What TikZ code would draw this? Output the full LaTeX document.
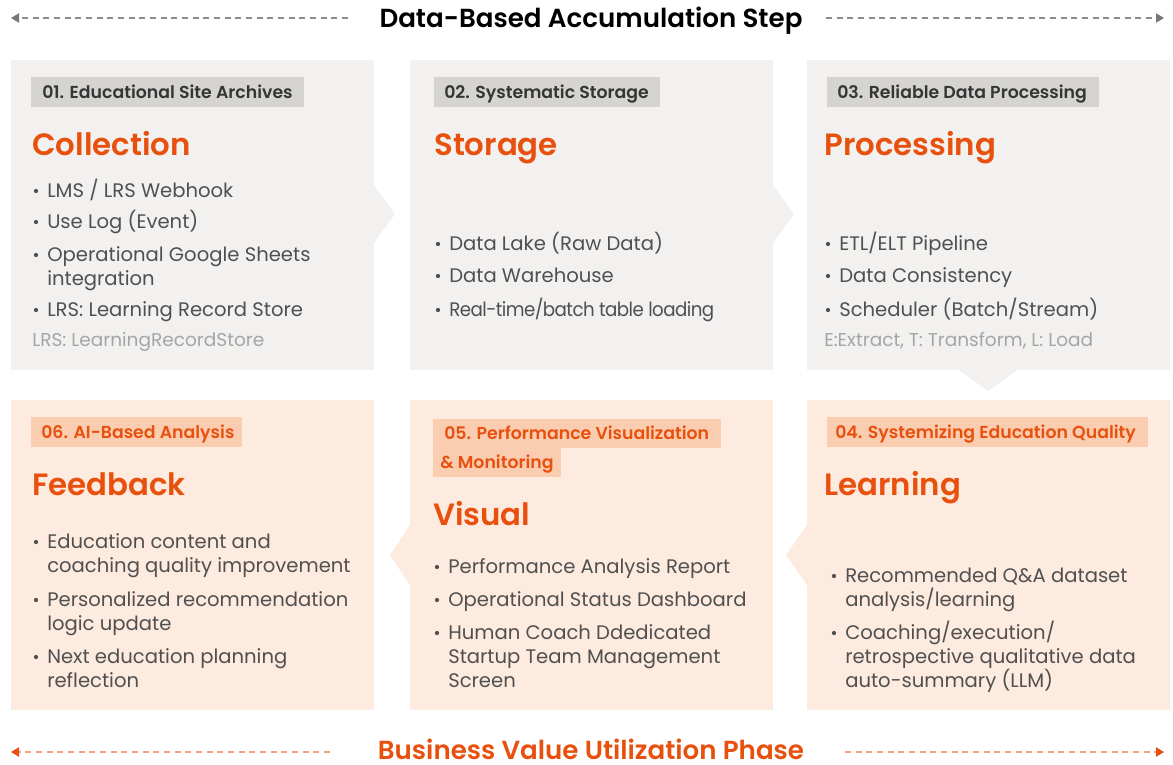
\documentclass[tikz,border=0pt]{standalone}
\usepackage{fontspec}
\usepackage{graphicx}
\setmainfont{Poppins}
\IfFontExistsTF{Poppins SemiBold}{\newfontfamily\psb{Poppins SemiBold}}{\newcommand\psb{\bfseries}}
\usetikzlibrary{arrows.meta}
\definecolor{orng}{HTML}{E8500E}
\definecolor{grayp}{HTML}{F2F1F0}
\definecolor{grayt}{HTML}{D6D4D1}
\definecolor{peach}{HTML}{FDEBDF}
\definecolor{peacht}{HTML}{FBCDB0}
\definecolor{tagtxt}{HTML}{353535}
\definecolor{bodyc}{HTML}{505050}
\definecolor{notec}{HTML}{A5A5A5}
\definecolor{dashg}{HTML}{8C8C8C}
\definecolor{tipg}{HTML}{777777}
\definecolor{dasho}{HTML}{F3A47F}
\tikzset{
 body/.style={anchor=base west, inner sep=0, text=bodyc, font=\fontsize{14.7}{18}\selectfont},
 note/.style={anchor=base west, inner sep=0, text=notec, font=\fontsize{13.9}{16}\selectfont},
 ttl/.style={anchor=base west, inner sep=0, text=orng, font=\fontsize{23.1}{28}\selectfont\psb},
 tagg/.style={anchor=base west, inner sep=0, text=tagtxt, font=\fontsize{13}{15}\selectfont\psb},
 tago/.style={tagg, text=orng},
 dot/.style={circle, fill=bodyc, inner sep=0, minimum size=3.2pt},
 hdrg/.style={anchor=base, inner sep=0, font=\fontsize{19.6}{24}\selectfont\psb, text=black},
 hdro/.style={hdrg, text=orng},
 dashgl/.style={draw=dashg, line width=0.9pt, dash pattern=on 4.5pt off 3.5pt, -{Triangle[length=6pt,width=7pt,color=tipg]}},
 dashol/.style={draw=dasho, line width=1.1pt, dash pattern=on 4.5pt off 3.5pt, -{Triangle[length=6pt,width=7pt,color=orng]}},
}
\begin{document}
\begin{tikzpicture}[x=0.75pt,y=-0.75pt]
\useasboundingbox (0,0) rectangle (1173,764);

% ---------- headers ----------
\node[hdrg] (hdr) at (591,27) {Data-Based Accumulation Step};
\coordinate (hlA) at (348,18); \coordinate (hlB) at (11,18);
\coordinate (hrA) at (826,18); \coordinate (hrB) at (1164,18);
\draw[dashgl] (hlA) -- (hlB);
\draw[dashgl] (hrA) -- (hrB);

\node[hdro] (ftr) at (591,759.5) {Business Value Utilization Phase};
\coordinate (flA) at (330,752); \coordinate (flB) at (11,752);
\coordinate (frA) at (845,752); \coordinate (frB) at (1164,752);
\draw[dashol] (flA) -- (flB);
\draw[dashol] (frA) -- (frB);

% ---------- panels ----------
\fill[grayp] (11,60) rectangle (374,370);
\fill[grayp] (374,185) -- (395,214) -- (374,243) -- cycle;
\fill[grayp] (410,60) rectangle (773,370);
\fill[grayp] (773,185) -- (794,214) -- (773,243) -- cycle;
\fill[grayp] (807,60) rectangle (1170,370);
\fill[grayp] (959,370) -- (988,391) -- (1017,370) -- cycle;

\fill[peach] (11,400) rectangle (374,710);
\fill[peach] (410,400) rectangle (773,710);
\fill[peach] (410,525) -- (390,555) -- (410,585) -- cycle;
\fill[peach] (807,400) rectangle (1170,710);
\fill[peach] (807,525) -- (786,555) -- (807,585) -- cycle;

% ---------- panel 1 ----------
\fill[grayt] (31,77) rectangle (304,107);
\node[tagg] (t1) at (42,98) {01. Educational Site Archives};
\node[ttl] (h1) at (32,155) {Collection};
\node[dot] (d1a) at (36,191) {}; \node[body] (l1a) at (47,197) {LMS / LRS Webhook};
\node[dot] (d1b) at (36,222) {}; \node[body] (l1b) at (47,228) {Use Log (Event)};
\node[dot] (d1c) at (36,255) {}; \node[body] (l1c) at (47,261) {Operational Google Sheets};
\node[body] (l1d) at (47,285) {integration};
\node[dot] (d1e) at (36,310) {}; \node[body] (l1e) at (47,316) {LRS: Learning Record Store};
\node[note] (n1) at (32,346) {LRS: LearningRecordStore};

% ---------- panel 2 ----------
\fill[grayt] (434,77) rectangle (660,107);
\node[tagg] (t2) at (444,98) {02. Systematic Storage};
\node[ttl] (h2) at (434,155) {Storage};
\node[dot] (d2a) at (438,244) {}; \node[body] (l2a) at (449,250) {Data Lake (Raw Data)};
\node[dot] (d2b) at (438,276) {}; \node[body] (l2b) at (449,282) {Data Warehouse};
\node[dot] (d2c) at (438,310) {}; \node[body] (l2c) at (449,316) {\scalebox{0.93}[1]{\addfontfeature{LetterSpace=-3}Real-time/batch table loading}};

% ---------- panel 3 ----------
\fill[grayt] (827,77) rectangle (1099,107);
\node[tagg] (t3) at (837,98) {03. Reliable Data Processing};
\node[ttl] (h3) at (824,155) {Processing};
\node[dot] (d3a) at (828,244) {}; \node[body] (l3a) at (839,250) {ETL/ELT Pipeline};
\node[dot] (d3b) at (828,276) {}; \node[body] (l3b) at (839,282) {Data Consistency};
\node[dot] (d3c) at (828,310) {}; \node[body] (l3c) at (839,316) {Scheduler (Batch/Stream)};
\node[note] (n3) at (824,346) {E:Extract, T: Transform, L: Load};

% ---------- panel 4 ----------
\fill[peacht] (827,417) rectangle (1148,447);
\node[tago] (t4) at (835,438) {04. Systemizing Education Quality};
\node[ttl] (h4) at (824,495) {Learning};
\node[dot] (d4a) at (834,576) {}; \node[body] (l4a) at (845,582) {Recommended Q\&A dataset};
\node[body] (l4b) at (845,606) {analysis/learning};
\node[dot] (d4c) at (834,633) {}; \node[body] (l4c) at (845,639) {Coaching/execution/};
\node[body] (l4d) at (845,663) {retrospective qualitative data};
\node[body] (l4e) at (845,687) {auto-summary (LLM)};

% ---------- panel 5 ----------
\fill[peacht] (433,419) rectangle (721,448);
\fill[peacht] (433,448) rectangle (561,477);
\node[tago] (t5a) at (444,439) {05. Performance Visualization};
\node[tago] (t5b) at (440,468) {\& Monitoring};
\node[ttl] (h5) at (433,525) {Visual};
\node[dot] (d5a) at (437,567) {}; \node[body] (l5a) at (448,573) {Performance Analysis Report};
\node[dot] (d5b) at (437,600) {}; \node[body] (l5b) at (448,606) {Operational Status Dashboard};
\node[dot] (d5c) at (437,633) {}; \node[body] (l5c) at (448,639) {Human Coach Ddedicated};
\node[body] (l5d) at (448,663) {Startup Team Management};
\node[body] (l5e) at (448,687) {Screen};

% ---------- panel 6 ----------
\fill[peacht] (31,417) rectangle (242,447);
\node[tago] (t6) at (41,438) {06. AI-Based Analysis};
\node[ttl] (h6) at (32,495) {Feedback};
\node[dot] (d6a) at (36,542) {}; \node[body] (l6a) at (47,548) {Education content and};
\node[body] (l6b) at (47,572) {coaching quality improvement};
\node[dot] (d6c) at (36,600) {}; \node[body] (l6c) at (47,606) {Personalized recommendation};
\node[body] (l6d) at (47,630) {logic update};
\node[dot] (d6e) at (36,657) {}; \node[body] (l6e) at (47,663) {Next education planning};
\node[body] (l6f) at (47,687) {reflection};
\end{tikzpicture}
\end{document}
